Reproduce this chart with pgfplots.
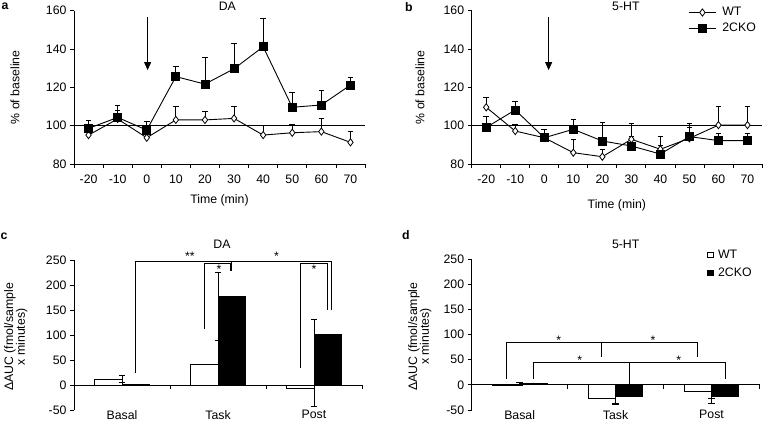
\documentclass[border=0pt]{standalone}
\usepackage{pgfplots}
\pgfplotsset{compat=1.18}
\usepackage{fontspec}
\setmainfont{Liberation Sans}
\usetikzlibrary{arrows.meta}
\newcommand{\fs}{\fontsize{12.3}{14}\selectfont}
\begin{document}
\begin{tikzpicture}[font=\fs]
\path[use as bounding box] (0pt,0pt) rectangle (763pt,421pt);
\pgfplotsset{
  myaxis/.style={
    scale only axis, clip=false, anchor=south west,
    axis x line*=bottom, axis y line*=left,
    tick align=outside,
    axis line style={line width=0.8pt},
    tick style={black, line width=0.8pt},
    major tick length=4pt, minor tick length=4pt,
    /pgf/number format/assume math mode=true,
    tick label style={font=\fs},
    label style={font=\fs},
  },
  lineaxis/.style={myaxis, width=291pt, height=153.3pt,
    xmin=-25, xmax=75, ymin=80, ymax=160,
    xtick={-20,-10,...,70}, xticklabels={-20,-10,0,10,20,30,40,50,60,70},
    minor xtick={-25,-15,...,75}, major x tick style={draw=none},
    xticklabel style={yshift=-3.7pt},
    ytick={80,100,...,160},
    xlabel={Time (min)}, ylabel={\% of baseline},
    legend image code/.code={\draw[mark repeat=2,mark phase=2,##1] plot coordinates {(0pt,0pt) (13.5pt,0pt) (27pt,0pt)};},
  },
  ebars/.style={error bars/y explicit,
    error bars/error bar style={line width=0.8pt, black},
    error bars/error mark options={rotate=90, mark size=#1, line width=0.8pt}},
  wtline/.style={black, line width=0.9pt, mark=diamond*, mark size=3.6pt,
    mark options={fill=white, line width=0.8pt, solid},
    error bars/y dir=plus, ebars=2.8pt},
  koline/.style={black, line width=0.9pt, mark=square*, mark size=4pt,
    mark options={fill=black, solid},
    error bars/y dir=plus, ebars=2.8pt},
  baraxis/.style={myaxis, height=150pt,
    xmin=-0.5, xmax=2.5, ymin=-50, ymax=250,
    ytick={-50,0,...,250},
    xtick={0,1,2}, xticklabels={Basal,Task,Post},
    major x tick style={draw=none}, x axis line style={draw=none},
    xticklabel style={inner sep=0pt, anchor=north, yshift=4pt},
    ylabel={ΔAUC (fmol/sample\\x minutes)},
    ylabel style={align=center, font=\fontsize{12.3}{11.7}\selectfont},
  },
  sqlegend/.style={legend image code/.code={\draw[##1,/tikz/.cd,line width=0.6pt] (0pt,-2.6pt) rectangle (5.2pt,2.6pt);}},
  wtbar/.style={ybar, bar width=0.284, bar shift=-0.142, draw=black, fill=white, line width=0.8pt, sqlegend, ebars=3.2pt},
  kobar/.style={ybar, bar width=0.284, bar shift=0.142, draw=black, fill=black, line width=0.8pt, sqlegend, ebars=3.2pt},
}

% ---------------- panel a ----------------
\begin{axis}[lineaxis, at={(74pt,257pt)},
  xlabel style={at={(axis description cs:0.5,-0.235)}, anchor=center},
  ylabel style={at={(axis description cs:-0.2027,0.5)}, anchor=center}]
\addplot[black, line width=1.1pt, forget plot] coordinates {(-25,100) (75,100)};
\addplot[wtline] coordinates {
  (-20,95.1) +- (0,3.0)
  (-10,103.5) +- (0,4.7)
  (0,93.7) +- (0,4.0)
  (10,103.0) +- (0,6.9)
  (20,103.0) +- (0,4.3)
  (30,103.8) +- (0,6.1)
  (40,95.1) +- (0,5.2)
  (50,96.3) +- (0,4.6)
  (60,96.9) +- (0,6.9)
  (70,91.3) +- (0,5.9)
};
\addplot[koline] coordinates {
  (-20,98.6) +- (0,4.4)
  (-10,104.3) +- (0,6.5)
  (0,97.7) +- (0,4.4)
  (10,125.6) +- (0,5.5)
  (20,121.7) +- (0,14.0)
  (30,129.7) +- (0,13.4)
  (40,141.2) +- (0,14.8)
  (50,109.6) +- (0,7.8)
  (60,110.8) +- (0,7.8)
  (70,121.2) +- (0,3.8)
};
\draw[line width=0.9pt, -{Triangle[length=8pt,width=7pt]}] (axis cs:0.3,156.7) -- (axis cs:0.3,129);
\node at (axis description cs:0.527,1.026) {DA};
\end{axis}

% ---------------- panel b ----------------
\begin{axis}[lineaxis, at={(471.7pt,257pt)}, width=290.3pt,
  xlabel style={at={(axis description cs:0.5,-0.267)}, anchor=center},
  ylabel style={at={(axis description cs:-0.178,0.5)}, anchor=center},
  legend style={at={(axis description cs:0.746,1.035)}, anchor=north west,
    draw=none, fill=none, inner sep=0pt, row sep=1.5pt, font=\fs,
    /tikz/every odd column/.append style={column sep=4pt}},
  legend cell align=left]
\addplot[black, line width=1.1pt, forget plot] coordinates {(-25,100) (75,100)};
\addplot[wtline] coordinates {
  (-20,109.6) +- (0,5.2)
  (-10,97.2) +- (0,3.7)
  (0,93.7) +- (0,4.4)
  (10,85.9) +- (0,7.0)
  (20,83.8) +- (0,4.0)
  (30,92.9) +- (0,8.3)
  (40,87.7) +- (0,6.6)
  (50,93.4) +- (0,7.8)
  (60,100.3) +- (0,9.6)
  (70,100.3) +- (0,10.0)
};
\addlegendentry{WT}
\addplot[koline] coordinates {
  (-20,99.1) +- (0,5.9)
  (-10,108.2) +- (0,4.3)
  (0,93.7) +- (0,4.6)
  (10,98.1) +- (0,5.4)
  (20,92.0) +- (0,9.6)
  (30,89.4) +- (0,5.0)
  (40,85.2) +- (0,4.5)
  (50,94.3) +- (0,5.0)
  (60,92.2) +- (0,4.0)
  (70,92.2) +- (0,4.0)
};
\addlegendentry{2CKO}
\draw[line width=0.9pt, -{Triangle[length=8pt,width=7pt]}] (axis cs:1.5,156.7) -- (axis cs:1.5,129);
\node at (axis description cs:0.531,1.026) {5-HT};
\end{axis}

% ---------------- panel c ----------------
\begin{axis}[baraxis, at={(74pt,11pt)}, width=288pt,
  ylabel style={at={(axis description cs:-0.202,0.487)}, anchor=center}]
\addplot[wtbar, error bars/y dir=plus] coordinates {
  (0,11.3) +- (0,7.4)
  (1,42) +- (0,46.7)
};
\addplot[wtbar, error bars/y dir=minus, forget plot] coordinates {
  (2,-6.7) +- (0,35.3)
};
\addplot[kobar, error bars/y dir=plus] coordinates {
  (0,2) +- (0,3.3)
  (1,178) +- (0,47.3)
  (2,100.7) +- (0,31.3)
};
\draw[line width=0.9pt] (axis cs:-0.5,0) -- (axis cs:2.5,0);
\pgfplotsinvokeforeach{0.5,1.5,2.5}{\draw[line width=0.8pt] (axis cs:#1,0) -- (axis cs:#1,-8);}
\begin{scope}[line width=0.8pt]
\draw (axis cs:0.142,25) |- (axis cs:2.18,248) -- (axis cs:2.18,151);
\draw (axis cs:1.142,248) -- (axis cs:1.142,228);
\draw (axis cs:0.858,113) |- (axis cs:1.13,243) -- (axis cs:1.13,228);
\draw (axis cs:1.854,35) |- (axis cs:2.137,243) -- (axis cs:2.137,151);
\end{scope}
\node[anchor=base, inner sep=0pt] at (axis cs:0.708,249) {**};
\node[anchor=base, inner sep=0pt] at (axis cs:1.61,249) {*};
\node[anchor=base, inner sep=0pt] at (axis cs:1.01,223) {*};
\node[anchor=base, inner sep=0pt] at (axis cs:2.0,223) {*};
\node at (axis description cs:0.514,1.108) {DA};
\end{axis}

% ---------------- panel d ----------------
\begin{axis}[baraxis, at={(471.7pt,11pt)}, width=287.8pt, height=151pt,
  ylabel style={at={(axis description cs:-0.18,0.487)}, anchor=center},
  legend style={at={(axis description cs:0.818,1.075)}, anchor=north west,
    draw=none, fill=none, inner sep=0pt, row sep=4pt, font=\fs,
    /tikz/every odd column/.append style={column sep=3pt}},
  legend cell align=left]
\addplot[wtbar, error bars/y dir=minus] coordinates {
  (0,-0.5) +- (0,0)
  (1,-27.8) +- (0,11.2)
  (2,-12.6) +- (0,13.9)
};
\addlegendentry{WT}
\addplot[kobar, error bars/y dir=plus] coordinates {
  (0,2) +- (0,3)
};
\addlegendentry{2CKO}
\addplot[kobar, error bars/y dir=minus, forget plot] coordinates {
  (1,-22.6) +- (0,15.1)
  (2,-22.6) +- (0,13.9)
};
\draw[line width=0.9pt] (axis cs:-0.5,0) -- (axis cs:2.5,0);
\pgfplotsinvokeforeach{0.5,1.5,2.5}{\draw[line width=0.8pt] (axis cs:#1,0) -- (axis cs:#1,-8);}
\begin{scope}[line width=0.8pt]
\draw (axis cs:-0.136,12) |- (axis cs:1.853,84.5) -- (axis cs:1.853,55);
\draw (axis cs:0.853,84.5) -- (axis cs:0.853,55);
\draw (axis cs:0.148,12) |- (axis cs:2.145,45) -- (axis cs:2.145,12);
\draw (axis cs:1.148,45) -- (axis cs:1.148,0);
\end{scope}
\node[anchor=base, inner sep=0pt] at (axis cs:0.408,79.4) {*};
\node[anchor=base, inner sep=0pt] at (axis cs:1.39,79.4) {*};
\node[anchor=base, inner sep=0pt] at (axis cs:0.627,39.7) {*};
\node[anchor=base, inner sep=0pt] at (axis cs:1.658,39.7) {*};
\node at (axis description cs:0.535,1.096) {5-HT};
\end{axis}

% panel letters
\node[font=\bfseries\fs] at (5pt,414.3pt) {a};
\node[font=\bfseries\fs] at (409pt,413.5pt) {b};
\node[font=\bfseries\fs] at (4pt,184.3pt) {c};
\node[font=\bfseries\fs] at (406pt,186pt) {d};
\end{tikzpicture}
\end{document}
